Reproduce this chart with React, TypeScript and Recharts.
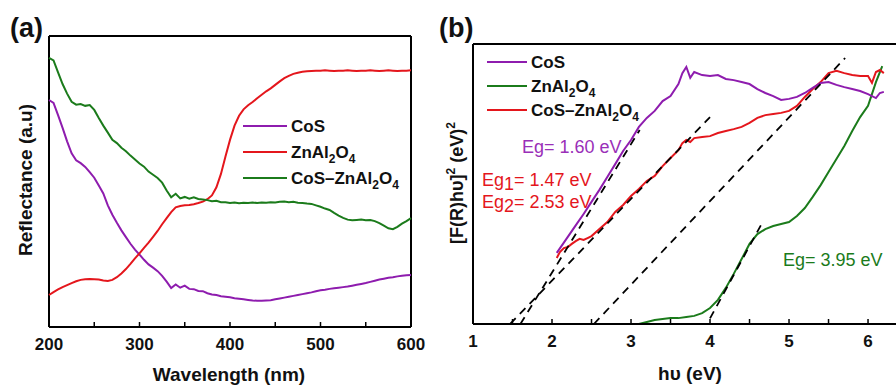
import React from 'react';
import { LineChart, Line, XAxis, YAxis, Legend, ReferenceLine } from 'recharts';

const FONT = '"Liberation Sans", Arial, Helvetica, sans-serif';
const PURPLE = '#8E1CAE';
const RED = '#E4161C';
const GREEN = '#1B7B1B';

// ---------- Panel (a): reflectance ----------
const wavelengthNm = [
  200, 205, 210, 215, 220, 225, 230, 235, 240, 245,
  250, 255, 260, 265, 270, 275, 280, 285, 290, 295,
  300, 305, 310, 315, 320, 325, 330, 335, 340, 345,
  350, 355, 360, 365, 370, 375, 380, 385, 390, 395,
  400, 405, 410, 415, 420, 425, 430, 435, 440, 445,
  450, 455, 460, 465, 470, 475, 480, 485, 490, 495,
  500, 505, 510, 515, 520, 525, 530, 535, 540, 545,
  550, 555, 560, 565, 570, 575, 580, 585, 590, 595, 600,
];
const reflCoS = [
  78.0, 77.0, 72.8, 68.4, 63.8, 59.7, 57.3, 56.3, 55.0, 53.2,
  51.3, 48.6, 45.9, 41.8, 38.6, 35.8, 33.2, 30.9, 28.6, 26.6,
  24.9, 23.1, 21.5, 20.4, 19.2, 17.6, 15.6, 13.4, 14.6, 13.5,
  14.2, 13.1, 13.0, 12.4, 12.3, 11.6, 11.2, 11.0, 10.6, 10.4,
  10.2, 9.9, 9.7, 9.5, 9.3, 9.1, 9.0, 9.0, 9.1, 9.2,
  9.5, 9.8, 10.1, 10.4, 10.7, 11.0, 11.3, 11.6, 11.9, 12.3,
  12.6, 12.8, 13.1, 13.3, 13.5, 13.7, 13.9, 14.2, 14.5, 14.8,
  15.1, 15.5, 15.9, 16.3, 16.6, 16.9, 17.1, 17.4, 17.6, 17.8, 17.9,
];
const reflZnAl2O4 = [
  11.0, 12.0, 12.9, 13.7, 14.4, 15.1, 15.7, 16.2, 16.4, 16.5,
  16.4, 16.3, 16.0, 15.8, 16.2, 17.1, 18.4, 19.9, 21.7, 23.6,
  25.3, 27.2, 29.0, 31.0, 33.0, 35.3, 37.4, 39.5, 41.1, 41.6,
  41.8, 41.9, 42.2, 42.6, 43.1, 43.9, 45.2, 48.0, 52.6, 58.6,
  64.3, 69.2, 72.6, 74.8, 76.2, 77.3, 78.6, 79.8, 81.0, 82.0,
  83.2, 84.4, 85.5, 86.3, 87.0, 87.4, 87.7, 87.9, 88.0, 88.1,
  88.1, 88.2, 88.1, 88.0, 88.1, 88.1, 88.2, 88.1, 88.0, 88.1,
  88.1, 88.2, 88.1, 88.0, 88.1, 88.2, 88.1, 88.0, 88.1, 88.1, 88.2,
];
const reflComposite = [
  92.5, 91.6, 87.5, 83.5, 80.2, 77.4, 76.4, 76.6, 76.0, 76.3,
  74.6, 71.8, 69.2, 66.8, 64.3, 63.2, 61.6, 60.4, 58.9, 57.6,
  56.2, 55.1, 53.4, 52.3, 51.2, 49.6, 46.9, 44.6, 45.8, 44.2,
  44.7, 44.1, 44.6, 44.0, 43.8, 43.6, 43.2, 43.4, 42.9, 42.9,
  42.6, 42.8, 42.5, 42.7, 42.6, 42.8, 42.6, 42.8, 42.7, 42.9,
  42.8, 43.0, 43.1, 42.9, 43.0, 42.7, 42.6, 42.4, 42.3, 41.8,
  41.3, 40.7, 40.2, 39.2, 38.3, 37.5, 36.9, 36.7, 36.8, 36.9,
  36.7, 36.8, 36.4, 35.7, 34.8, 33.9, 33.6, 34.4, 35.5, 36.4, 37.4,
];
const wlTicks = [200, 250, 300, 350, 400, 450, 500, 550, 600];
const wlLabels = [200, 300, 400, 500, 600];
const wlDomain = [200, 600];
const reflDomain = [0, 100];

// ---------- Panel (b): Tauc plot ----------
const hvCoS = [
  2.06, 2.2, 2.3, 2.4, 2.5, 2.6, 2.7, 2.8, 2.9, 3.0, 3.1, 3.2, 3.3, 3.4, 3.5, 3.6, 3.65, 3.7,
  3.75, 3.8, 3.9, 4.0, 4.1, 4.2, 4.3, 4.4, 4.5, 4.6, 4.7, 4.8, 4.9, 5.0, 5.1, 5.2, 5.3, 5.4,
  5.5, 5.6, 5.7, 5.8, 5.9, 6.0, 6.1, 6.15, 6.2,
];
const fCoS = [
  25.4, 31.1, 35.2, 39.3, 43.6, 47.9, 52.5, 57.1, 61.8, 65.7, 70.4, 73.6, 76.1, 79.6, 81.4, 85.7, 89.6, 91.8,
  87.9, 90.0, 88.9, 88.6, 88.9, 87.5, 87.1, 86.4, 85.7, 83.9, 82.5, 81.4, 80.0, 80.4, 81.1, 82.5, 84.3, 86.1,
  86.4, 85.4, 84.6, 83.9, 83.2, 82.1, 80.7, 82.5, 82.9,
];
const hvComposite = [
  2.06, 2.1, 2.15, 2.2, 2.25, 2.3, 2.35, 2.4, 2.45, 2.5, 2.6, 2.7, 2.8, 2.9, 3.0, 3.1, 3.2, 3.3,
  3.4, 3.5, 3.6, 3.65, 3.7, 3.75, 3.8, 3.9, 4.0, 4.1, 4.2, 4.3, 4.4, 4.5, 4.6, 4.7, 4.8, 4.9,
  5.0, 5.1, 5.2, 5.3, 5.4, 5.5, 5.6, 5.7, 5.8, 5.9, 6.0, 6.05, 6.1, 6.15, 6.2,
];
const fComposite = [
  23.6, 25.7, 27.1, 27.5, 28.6, 29.6, 30.4, 30.0, 30.7, 31.4, 33.9, 36.4, 40.0, 42.5, 45.7, 48.2, 51.1, 52.9,
  56.4, 59.3, 62.1, 64.6, 65.7, 65.0, 66.4, 66.8, 67.1, 68.2, 68.9, 69.6, 70.4, 71.8, 73.6, 74.6, 75.0, 75.4,
  76.1, 77.9, 81.1, 83.9, 86.4, 89.6, 90.4, 89.6, 88.9, 88.6, 88.6, 86.1, 90.0, 90.7, 89.6,
];
const hvZnAl2O4 = [
  3.1, 3.2, 3.3, 3.4, 3.5, 3.6, 3.7, 3.8, 3.9, 4.0, 4.1, 4.2, 4.3, 4.4, 4.5, 4.6, 4.7, 4.8,
  4.9, 5.0, 5.1, 5.2, 5.3, 5.4, 5.5, 5.6, 5.7, 5.8, 5.9, 6.0, 6.1, 6.18,
];
const fZnAl2O4 = [
  0.0, 0.7, 1.4, 1.8, 2.1, 2.1, 2.5, 2.9, 3.9, 5.7, 8.6, 12.9, 17.9, 23.2, 28.6, 32.1, 33.9, 35.0,
  35.7, 36.4, 38.6, 41.4, 45.4, 49.6, 54.3, 58.9, 63.6, 68.9, 73.9, 77.9, 86.4, 92.1,
];
// tangent (extrapolation) lines: [start, end]
const tangentCoSX = [1.6, 3.11];
const tangentCoSY = [0, 69.3];
const tangentEg1X = [1.47, 4.0];
const tangentEg1Y = [0, 73.9];
const tangentEg2X = [2.53, 5.71];
const tangentEg2Y = [0, 95.0];
const tangentZnX = [4.0, 4.66];
const tangentZnY = [2.0, 36.1];
const hvTicks = [1, 1.5, 2, 2.5, 3, 3.5, 4, 4.5, 5, 5.5, 6];
const hvLabels = [1, 2, 3, 4, 5, 6];
const hvDomain = [1, 6.354];
const taucDomain = [0, 100];

const seriesNamesA = ['CoS', 'ZnAl2O4', 'CoS–ZnAl2O4'];
const seriesColorsA = [PURPLE, RED, GREEN];
const seriesNamesB = ['CoS', 'ZnAl2O4', 'CoS–ZnAl2O4'];
const seriesColorsB = [PURPLE, GREEN, RED];

const zip = (xs: number[], ys: number[]) => xs.map((x, i) => ({ x, y: ys[i] }));

const rowsA = wavelengthNm.map((wl, i) => ({
  wl,
  cos: reflCoS[i],
  znal: reflZnAl2O4[i],
  comp: reflComposite[i],
}));

function Chem({ name, sub }: { name: string; sub: number }) {
  const parts = name.split(/(\d)/).filter((p) => p !== '');
  return (
    <>
      {parts.map((p, i) =>
        /\d/.test(p) ? (
          <span key={i} style={{ fontSize: sub, position: 'relative', top: 5 }}>
            {p}
          </span>
        ) : (
          <span key={i}>{p}</span>
        )
      )}
    </>
  );
}

function LegendBox({ names, colors, lineW, rowH }: any) {
  return (
    <div style={{ fontFamily: FONT, fontWeight: 'bold', fontSize: 17, color: '#111' }}>
      {names.map((n: string, i: number) => (
        <div key={n} style={{ display: 'flex', alignItems: 'center', height: rowH, whiteSpace: 'nowrap' }}>
          <div style={{ width: lineW, height: 2, background: colors[i], marginRight: 4 }} />
          <span style={{ lineHeight: 1 }}>
            <Chem name={n} sub={12} />
          </span>
        </div>
      ))}
    </div>
  );
}

function InTick(props: any) {
  const { x, y, payload, labels } = props;
  const v = payload.value;
  const show = labels.some((l: number) => Math.abs(l - v) < 1e-6);
  return (
    <g>
      <line x1={x} y1={y} x2={x} y2={y - 5} stroke="#000" strokeWidth={1.5} />
      {show && (
        <text x={x} y={y + 23} textAnchor="middle" fontFamily={FONT} fontWeight="bold" fontSize={17} fill="#111">
          {v}
        </text>
      )}
    </g>
  );
}

const frame = { stroke: '#000', strokeWidth: 2, ifOverflow: 'visible' as const };

function PanelA() {
  return (
    <LineChart width={448} height={387} data={rowsA} margin={{ top: 36, right: 37, bottom: 30, left: 49 }}>
      <XAxis
        xAxisId="b"
        dataKey="wl"
        type="number"
        domain={wlDomain}
        ticks={wlTicks}
        interval={0}
        tickSize={0}
        tickMargin={0}
        tickLine={false}
        height={30}
        stroke="#000"
        strokeWidth={2}
        tick={(p: any) => <InTick {...p} labels={wlLabels} />}
      />
      <YAxis yAxisId="l" type="number" domain={reflDomain} width={0} tick={false} tickLine={false} stroke="#000" strokeWidth={2} />
      <ReferenceLine xAxisId="b" yAxisId="l" x={wlDomain[0]} {...frame} />
      <ReferenceLine xAxisId="b" yAxisId="l" x={wlDomain[1]} {...frame} />
      <ReferenceLine xAxisId="b" yAxisId="l" y={reflDomain[0]} {...frame} />
      <ReferenceLine xAxisId="b" yAxisId="l" y={reflDomain[1]} {...frame} />
      <Line xAxisId="b" yAxisId="l" dataKey="cos" name="CoS" stroke={PURPLE} strokeWidth={2} dot={false} isAnimationActive={false} />
      <Line xAxisId="b" yAxisId="l" dataKey="znal" name="ZnAl2O4" stroke={RED} strokeWidth={2} dot={false} isAnimationActive={false} />
      <Line xAxisId="b" yAxisId="l" dataKey="comp" name="CoS–ZnAl2O4" stroke={GREEN} strokeWidth={2} dot={false} isAnimationActive={false} />
      <Legend
        layout="vertical"
        align="center"
        verticalAlign="middle"
        wrapperStyle={{ left: 243, top: 113, width: 'auto' }}
        content={() => <LegendBox names={seriesNamesA} colors={seriesColorsA} lineW={44} rowH={26} />}
      />
    </LineChart>
  );
}

const dashStyle = { stroke: '#000', strokeWidth: 1.8, strokeDasharray: '8 6' };

function PanelB() {
  return (
    <LineChart width={448} height={387} margin={{ top: 44, right: 0, bottom: 33, left: 25 }}>
      <XAxis
        xAxisId="b"
        dataKey="x"
        type="number"
        domain={hvDomain}
        allowDataOverflow
        ticks={hvTicks}
        interval={0}
        tickSize={0}
        tickMargin={0}
        tickLine={false}
        height={30}
        stroke="#000"
        strokeWidth={2}
        tick={(p: any) => <InTick {...p} labels={hvLabels} />}
      />
      <YAxis yAxisId="l" type="number" domain={taucDomain} allowDataOverflow width={0} tick={false} tickLine={false} stroke="#000" strokeWidth={2} />
      <ReferenceLine xAxisId="b" yAxisId="l" x={hvDomain[0]} {...frame} />
      <ReferenceLine xAxisId="b" yAxisId="l" y={taucDomain[0]} {...frame} />
      <ReferenceLine xAxisId="b" yAxisId="l" y={taucDomain[1]} {...frame} />
      <Line xAxisId="b" yAxisId="l" data={zip(hvZnAl2O4, fZnAl2O4)} dataKey="y" name="ZnAl2O4" stroke={GREEN} strokeWidth={2} dot={false} isAnimationActive={false} />
      <Line xAxisId="b" yAxisId="l" data={zip(hvComposite, fComposite)} dataKey="y" name="CoS–ZnAl2O4" stroke={RED} strokeWidth={2} dot={false} isAnimationActive={false} />
      <Line xAxisId="b" yAxisId="l" data={zip(hvCoS, fCoS)} dataKey="y" name="CoS" stroke={PURPLE} strokeWidth={2} dot={false} isAnimationActive={false} />
      <Line xAxisId="b" yAxisId="l" data={zip(tangentCoSX, tangentCoSY)} dataKey="y" legendType="none" {...dashStyle} dot={false} isAnimationActive={false} />
      <Line xAxisId="b" yAxisId="l" data={zip(tangentEg1X, tangentEg1Y)} dataKey="y" legendType="none" {...dashStyle} dot={false} isAnimationActive={false} />
      <Line xAxisId="b" yAxisId="l" data={zip(tangentEg2X, tangentEg2Y)} dataKey="y" legendType="none" {...dashStyle} dot={false} isAnimationActive={false} />
      <Line xAxisId="b" yAxisId="l" data={zip(tangentZnX, tangentZnY)} dataKey="y" legendType="none" {...dashStyle} dot={false} isAnimationActive={false} />
      <Legend
        layout="vertical"
        align="center"
        verticalAlign="middle"
        wrapperStyle={{ left: 39, top: 50, width: 'auto' }}
        content={() => <LegendBox names={seriesNamesB} colors={seriesColorsB} lineW={40} rowH={24} />}
      />
    </LineChart>
  );
}

function Overlay() {
  const bold = { fontFamily: FONT, fontWeight: 'bold' as const, fill: '#111' };
  const reg = { fontFamily: FONT, fontSize: 18 };
  return (
    <svg width={896} height={387} style={{ position: 'absolute', left: 0, top: 0, pointerEvents: 'none' }}>
      <text x={10} y={37} fontSize={27} {...bold}>(a)</text>
      <text x={439} y={37} fontSize={27} {...bold}>(b)</text>
      <text x={229} y={381} fontSize={19} textAnchor="middle" {...bold}>Wavelength (nm)</text>
      <text x={690} y={380} fontSize={19} textAnchor="middle" {...bold}>hυ (eV)</text>
      <text transform="translate(32,180) rotate(-90)" fontSize={19} textAnchor="middle" {...bold}>Reflectance (a.u)</text>
      <text transform="translate(463,183) rotate(-90)" fontSize={18} textAnchor="middle" {...bold}>
        [F(R)hυ]<tspan fontSize={12} dy={-8}>2</tspan>
        <tspan dy={8}> (eV)</tspan>
        <tspan fontSize={12} dy={-8}>2</tspan>
      </text>
      <text x={522} y={153} {...reg} fill="#9A2FB8">Eg= 1.60 eV</text>
      <text x={482} y={186} {...reg} fill={RED}>
        Eg<tspan dy={4}>1</tspan><tspan dy={-4}>= 1.47 eV</tspan>
      </text>
      <text x={482} y={208} {...reg} fill={RED}>
        Eg<tspan dy={4}>2</tspan><tspan dy={-4}>= 2.53 eV</tspan>
      </text>
      <text x={783} y={266} {...reg} fill={GREEN}>Eg= 3.95 eV</text>
    </svg>
  );
}

export default function App() {
  return (
    <div style={{ position: 'absolute', left: 0, top: 0, width: 896, height: 387, background: '#fff', overflow: 'hidden' }}>
      <div style={{ position: 'absolute', left: 0, top: 0 }}>
        <PanelA />
      </div>
      <div style={{ position: 'absolute', left: 448, top: 0 }}>
        <PanelB />
      </div>
      <Overlay />
    </div>
  );
}
